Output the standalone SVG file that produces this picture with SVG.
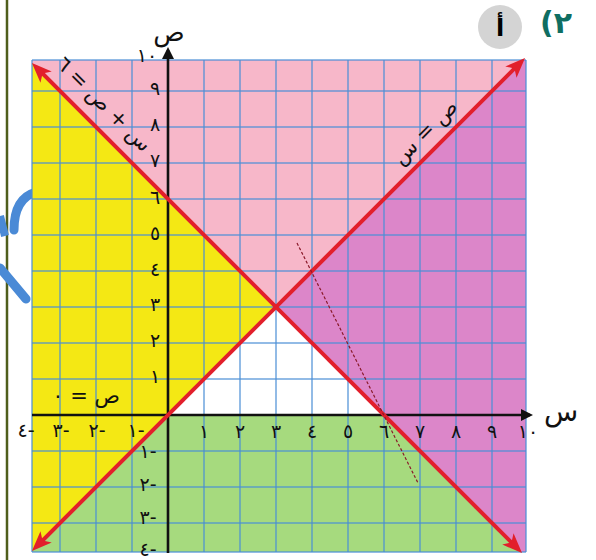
<svg xmlns="http://www.w3.org/2000/svg" width="596" height="560" viewBox="0 0 596 560">
  <style>
    .grid line { stroke: #4A8FD6; stroke-width: 1.5; opacity: 0.8; }
    .tick { font-family: "DejaVu Sans", "Noto Sans", sans-serif; font-size: 19px; fill: #111; text-anchor: middle; dominant-baseline: central; direction: ltr; unicode-bidi: bidi-override; }
    .lbl { font-family: "DejaVu Sans", "Noto Sans", sans-serif; font-size: 21px; fill: #111; text-anchor: middle; dominant-baseline: central; }
    .red { stroke: #E21F2B; stroke-width: 4; fill: none; marker-start: url(#ra); marker-end: url(#ra); }
    .axis { stroke: #111; stroke-width: 2.6; fill: none; }
  </style>
  <defs>
    <clipPath id="gclip"><rect x="32" y="60" width="494" height="492"/></clipPath>
    <marker id="ra" markerUnits="userSpaceOnUse" viewBox="0 0 20 16" markerWidth="20" markerHeight="16" refX="14" refY="8" orient="auto-start-reverse">
      <path d="M0,0 L20,8 L0,16 L5,8 z" fill="#E21F2B"/>
    </marker>
    <marker id="ka" markerUnits="userSpaceOnUse" viewBox="0 0 12 12" markerWidth="12" markerHeight="12" refX="9" refY="6" orient="auto">
      <path d="M0,0 L12,6 L0,12 z" fill="#111"/>
    </marker>
  </defs>

  <rect width="596" height="560" fill="#fff"/>

  <!-- left border line and watermark -->
  <g id="frame">
    <line x1="7" y1="0" x2="7" y2="560" stroke="#4F5E1C" stroke-width="2.5"/>
    <path d="M14,230 C14,208 22,196 36,192" stroke="#4A8AD6" stroke-width="9" fill="none" stroke-linecap="round"/>
    <path d="M0,216 L5,236" stroke="#4A8AD6" stroke-width="8" fill="none"/>
    <path d="M0,268 L26,299" stroke="#4A8AD6" stroke-width="9" fill="none" stroke-linecap="round"/>
  </g>

  <!-- shaded regions -->
  <g id="regions" clip-path="url(#gclip)">
    <polygon points="20,51 20,20 540,20 540,43 276,307" fill="#F7B7C9"/>
    <polygon points="20,51 276,307 20,563" fill="#F4E814"/>
    <polygon points="540,43 276,307 540,571" fill="#DC86C9"/>
    <polygon points="20,563 276,307 540,571 540,600 20,600" fill="#A6DA7E"/>
    <polygon points="168,415 276,307 384,415" fill="#FFFFFF"/>
  </g>

  <!-- grid -->
  <g id="grid" class="grid">
    <line x1="32" y1="60" x2="32" y2="552"/>
    <line x1="60" y1="60" x2="60" y2="552"/>
    <line x1="96" y1="60" x2="96" y2="552"/>
    <line x1="132" y1="60" x2="132" y2="552"/>
    <line x1="204" y1="60" x2="204" y2="552"/>
    <line x1="240" y1="60" x2="240" y2="552"/>
    <line x1="276" y1="60" x2="276" y2="552"/>
    <line x1="312" y1="60" x2="312" y2="552"/>
    <line x1="348" y1="60" x2="348" y2="552"/>
    <line x1="384" y1="60" x2="384" y2="552"/>
    <line x1="420" y1="60" x2="420" y2="552"/>
    <line x1="456" y1="60" x2="456" y2="552"/>
    <line x1="492" y1="60" x2="492" y2="552"/>
    <line x1="526" y1="60" x2="526" y2="552"/>
    <line x1="32" y1="60" x2="526" y2="60"/>
    <line x1="32" y1="91" x2="526" y2="91"/>
    <line x1="32" y1="127" x2="526" y2="127"/>
    <line x1="32" y1="163" x2="526" y2="163"/>
    <line x1="32" y1="199" x2="526" y2="199"/>
    <line x1="32" y1="235" x2="526" y2="235"/>
    <line x1="32" y1="271" x2="526" y2="271"/>
    <line x1="32" y1="307" x2="526" y2="307"/>
    <line x1="32" y1="343" x2="526" y2="343"/>
    <line x1="32" y1="379" x2="526" y2="379"/>
    <line x1="32" y1="451" x2="526" y2="451"/>
    <line x1="32" y1="487" x2="526" y2="487"/>
    <line x1="32" y1="523" x2="526" y2="523"/>
    <line x1="32" y1="552" x2="526" y2="552"/>
  </g>

  <!-- axes -->
  <g id="axes">
    <line class="axis" x1="32" y1="415" x2="530" y2="415" marker-end="url(#ka)"/>
    <line class="axis" x1="168" y1="553" x2="168" y2="50" marker-end="url(#ka)"/>
    <text class="lbl" x="169" y="32" style="font-size:26px">ص</text>
    <text class="lbl" x="561" y="411" style="font-size:28px">س</text>
  </g>

  <!-- tick labels -->
  <g id="ticks">
    <text class="tick" x="204" y="431">١</text>
    <text class="tick" x="240" y="431">٢</text>
    <text class="tick" x="276" y="431">٣</text>
    <text class="tick" x="312" y="431">٤</text>
    <text class="tick" x="348" y="431">٥</text>
    <text class="tick" x="384" y="431">٦</text>
    <text class="tick" x="420" y="431">٧</text>
    <text class="tick" x="456" y="431">٨</text>
    <text class="tick" x="492" y="431">٩</text>
    <text class="tick" x="528" y="431">١٠</text>
    <text class="tick" x="136" y="430">١-</text>
    <text class="tick" x="97" y="430">٢-</text>
    <text class="tick" x="61" y="430">٣-</text>
    <text class="tick" x="26" y="430">٤-</text>
    <text class="tick" x="155" y="376">١</text>
    <text class="tick" x="155" y="340">٢</text>
    <text class="tick" x="155" y="304">٣</text>
    <text class="tick" x="155" y="269">٤</text>
    <text class="tick" x="155" y="233">٥</text>
    <text class="tick" x="155" y="197">٦</text>
    <text class="tick" x="155" y="160">٧</text>
    <text class="tick" x="155" y="124">٨</text>
    <text class="tick" x="155" y="88">٩</text>
    <text class="tick" x="147" y="55">١٠</text>
    <text class="tick" x="148" y="451">١-</text>
    <text class="tick" x="148" y="484">٢-</text>
    <text class="tick" x="148" y="517">٣-</text>
    <text class="tick" x="148" y="549">٤-</text>
  </g>

  <!-- boundary lines -->
  <g id="connectors">
    <line class="red" x1="36.2" y1="546.8" x2="520.8" y2="62.2"/>
    <line class="red" x1="36.2" y1="67.2" x2="517.8" y2="548.8"/>
    <line x1="297" y1="243" x2="418" y2="483" stroke="#8B1A2A" stroke-width="1.2" stroke-dasharray="3 2"/>
  </g>

  <!-- line labels -->
  <g id="line-labels">
    <text class="lbl" direction="rtl" transform="translate(104,104) rotate(45)">س + ص = ٦</text>
    <text class="lbl" direction="rtl" transform="translate(425,132) rotate(-45)">ص = س</text>
    <text class="lbl" direction="rtl" x="86" y="396">ص = ٠</text>
  </g>

  <!-- header -->
  <g id="header">
    <circle cx="500" cy="27" r="22" fill="#D4D4D4"/>
    <text x="500" y="28" font-family="DejaVu Sans, sans-serif" font-size="24" font-weight="bold" fill="#000" text-anchor="middle" dominant-baseline="central">أ</text>
    <text x="556" y="22" font-family="DejaVu Sans, sans-serif" font-size="30" font-weight="bold" fill="#0F6E62" text-anchor="middle" dominant-baseline="central" direction="ltr" unicode-bidi="bidi-override">(٢</text>
  </g>
</svg>
